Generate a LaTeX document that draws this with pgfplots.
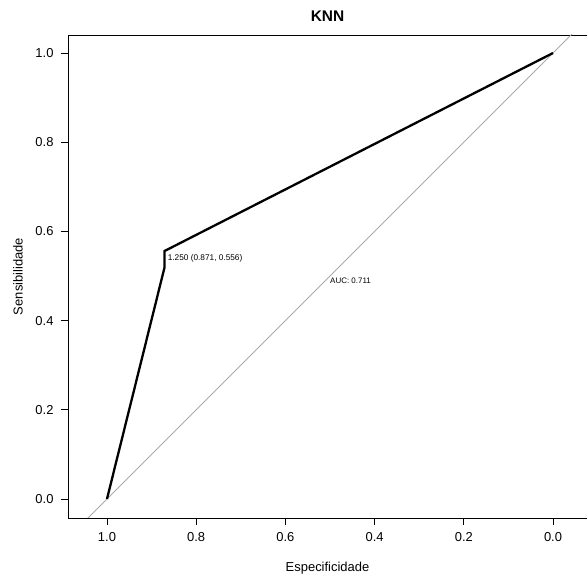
\documentclass[border=0pt]{standalone}
\usepackage{pgfplots}
\pgfplotsset{compat=1.18}
\usepackage{fontspec}
\setmainfont{Liberation Sans}
\definecolor{diag}{RGB}{170,170,170}
\begin{document}
\begin{tikzpicture}
\begin{axis}[
  name=ax,
  scale only axis,
  width=519bp, height=483bp,
  x dir=reverse,
  xmin=-0.0762, xmax=1.0874,
  ymin=-0.0426, ymax=1.0404,
  axis x line*=box, axis y line*=left,
  xtick={0,0.2,0.4,0.6,0.8,1.0},
  ytick={0,0.2,0.4,0.6,0.8,1.0},
  xticklabels={0.0,0.2,0.4,0.6,0.8,1.0},
  yticklabels={0.0,0.2,0.4,0.6,0.8,1.0},
  xtick pos=bottom,
  tick align=outside,
  major tick length=7bp,
  tick style={black, line width=0.8bp},
  axis line style={black, line width=0.8bp},
  ticklabel style={font=\fontsize{13}{15}\selectfont},
  xticklabel style={yshift=-4bp},
  yticklabel style={xshift=-4bp},
  label style={font=\fontsize{13}{15}\selectfont},
  xlabel={Especificidade},
  xlabel style={yshift=-14bp},
  title={\textbf{KNN}},
  title style={font=\fontsize{15.5}{18}\selectfont, anchor=south, yshift=4bp},
  clip=true,
]
\addplot[diag, line width=0.9bp] coordinates {(1.2,-0.2) (-0.2,1.2)};
\addplot[black, line width=2.3bp] coordinates {(1.0,0.0) (0.871,0.519) (0.871,0.556) (0.0,1.0)};
\node[anchor=north west, font=\fontsize{8.3}{10}\selectfont, inner sep=0pt] at (axis cs:0.864,0.548) {1.250 (0.871, 0.556)};
\node[anchor=north west, font=\fontsize{8}{10}\selectfont, inner sep=0pt] at (axis cs:0.5,0.497) {AUC: 0.711};
\end{axis}
\path (ax.west) ++(-50bp,0) node[rotate=90, font=\fontsize{13}{15}\selectfont] {Sensibilidade};
\pgfresetboundingbox
\path[use as bounding box] (ax.south west) ++(-68bp,-60bp) rectangle ++(587bp,578bp);
\end{tikzpicture}
\end{document}
